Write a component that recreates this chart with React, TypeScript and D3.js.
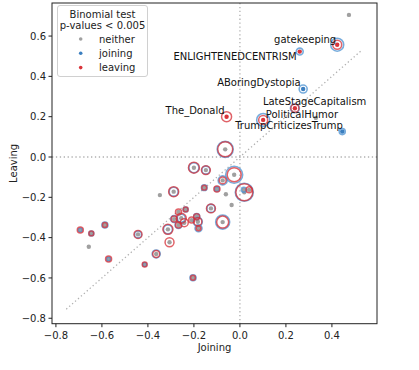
import React, { useEffect, useRef } from "react";
import * as d3 from "d3";

// joining / leaving effect per subreddit
const joining = [0.474, 0.423, 0.26, 0.275, 0.239, 0.33, 0.101, 0.445, -0.058, -0.064, -0.2, -0.148, -0.025, -0.075, -0.155, -0.1, -0.061, 0.019, 0.04, 0.017, -0.288, -0.348, -0.036, -0.126, -0.236, -0.267, -0.286, -0.255, -0.21, -0.188, -0.242, -0.267, -0.183, -0.18, -0.075, -0.313, -0.306, -0.364, -0.414, -0.443, -0.587, -0.646, -0.694, -0.657, -0.571, -0.204];
const leaving = [0.705, 0.557, 0.523, 0.337, 0.242, 0.194, 0.184, 0.126, 0.2, 0.038, -0.053, -0.065, -0.088, -0.116, -0.152, -0.159, -0.185, -0.175, -0.163, -0.162, -0.172, -0.189, -0.238, -0.255, -0.26, -0.273, -0.308, -0.304, -0.313, -0.296, -0.326, -0.337, -0.321, -0.354, -0.323, -0.359, -0.423, -0.481, -0.533, -0.384, -0.337, -0.379, -0.362, -0.445, -0.506, -0.599];
// significance: n = neither, j = joining, l = leaving
const signif = ["n", "l", "l", "j", "l", "n", "l", "j", "l", "n", "n", "n", "n", "n", "n", "n", "n", "n", "n", "n", "n", "n", "n", "n", "n", "n", "n", "n", "n", "n", "n", "n", "n", "n", "n", "n", "n", "n", "n", "n", "n", "n", "n", "n", "n", "n"];
// ring sizes (user counts, arbitrary units)
const joinCount = [0, 42, 12, 16, 20, 0, 42, 9, 0, 64, 25, 16, 72, 20, 8, 6, 0, 81, 0, 6, 20, 0, 0, 16, 6, 0, 12, 16, 0, 9, 0, 12, 20, 12, 49, 20, 0, 16, 4, 12, 9, 6, 4, 0, 4, 9];
const leaveCount = [0, 20, 0, 0, 16, 0, 20, 0, 25, 56, 30, 20, 49, 12, 6, 9, 0, 72, 9, 0, 25, 0, 0, 20, 6, 9, 9, 25, 9, 9, 16, 9, 16, 6, 36, 25, 20, 12, 6, 16, 6, 6, 9, 0, 9, 6];

const labelNames = ["gatekeeping", "ENLIGHTENEDCENTRISM", "ABoringDystopia", "LateStageCapitalism", "PoliticalHumor", "TrumpCriticizesTrump", "The_Donald"];
const labelIndex = [1, 2, 3, 4, 5, 6, 8];
// label offsets in px [dx, dy, anchor]
const labelOffsets: [number, number, string][] = [
  [-1, -2, "end"],
  [-3, 8, "end"],
  [-2.5, -3, "end"],
  [-32, -3, "start"],
  [-50, 0, "start"],
  [-28, 9, "start"],
  [-2, -3, "end"],
];

const xTicks = [-0.8, -0.6, -0.4, -0.2, 0.0, 0.2, 0.4];
const yTicks = [-0.8, -0.6, -0.4, -0.2, 0.0, 0.2, 0.4, 0.6];

const legendItems = [
  { key: "n", label: "neither" },
  { key: "j", label: "joining" },
  { key: "l", label: "leaving" },
];

const dotColor: Record<string, string> = { n: "#a0a0a0", j: "#3b7fc0", l: "#d9343a" };

export default function App() {
  const ref = useRef<SVGSVGElement>(null);

  useEffect(() => {
    const W = 419, H = 370;
    const left = 52, right = 377, top = 3, bottom = 323.7;
    const font = "DejaVu Sans, sans-serif";
    const svg = d3.select(ref.current);
    svg.selectAll("*").remove();

    const x = d3.scaleLinear().domain([-0.817, 0.596]).range([left, right]);
    const y = d3.scaleLinear().domain([-0.827, 0.764]).range([bottom, top]);
    const r = d3.scaleSqrt().domain([0, 100]).range([0, 10]);

    const data = joining.map((j, i) => ({
      x: j, y: leaving[i], s: signif[i], jc: joinCount[i], lc: leaveCount[i],
    }));

    const g = svg.append("g");

    // reference lines
    const ref0 = "#b0b0b0";
    g.append("line").attr("x1", x(0)).attr("x2", x(0)).attr("y1", top).attr("y2", bottom)
      .attr("stroke", ref0).attr("stroke-width", 1.3).attr("stroke-dasharray", "1.3,2.6");
    g.append("line").attr("x1", left).attr("x2", right).attr("y1", y(0)).attr("y2", y(0))
      .attr("stroke", ref0).attr("stroke-width", 1.3).attr("stroke-dasharray", "1.3,2.6");
    const lo = -0.755, hi = 0.526;
    g.append("line").attr("x1", x(lo)).attr("y1", y(lo)).attr("x2", x(hi)).attr("y2", y(hi))
      .attr("stroke", ref0).attr("stroke-width", 1.3).attr("stroke-dasharray", "1.3,2.6");

    // center dots
    g.selectAll(".dot").data(data).enter().append("circle")
      .attr("cx", (d) => x(d.x)).attr("cy", (d) => y(d.y)).attr("r", 2.2)
      .attr("fill", (d) => dotColor[d.s]);

    // joining rings
    g.selectAll(".jr").data(data.filter((d) => d.jc > 0)).enter().append("circle")
      .attr("cx", (d) => x(d.x)).attr("cy", (d) => y(d.y)).attr("r", (d) => r(d.jc))
      .attr("fill", "none").attr("stroke", "#4a90d0").attr("stroke-opacity", 0.75).attr("stroke-width", 1.6);

    // leaving rings
    g.selectAll(".lr").data(data.filter((d) => d.lc > 0)).enter().append("circle")
      .attr("cx", (d) => x(d.x)).attr("cy", (d) => y(d.y)).attr("r", (d) => r(d.lc))
      .attr("fill", "none").attr("stroke", "#d62d35").attr("stroke-opacity", 0.75).attr("stroke-width", 1.5);

    // labels
    labelNames.forEach((name, k) => {
      const d = data[labelIndex[k]];
      const [dx, dy, anchor] = labelOffsets[k];
      g.append("text").attr("x", x(d.x) + dx).attr("y", y(d.y) + dy)
        .attr("text-anchor", anchor).attr("font-family", font).attr("font-size", 10)
        .attr("fill", "#111").text(name);
    });

    // frame
    svg.append("rect").attr("x", left).attr("y", top).attr("width", right - left).attr("height", bottom - top)
      .attr("fill", "none").attr("stroke", "#222").attr("stroke-width", 1);

    // x axis
    const fmt = (v: number) => (v < 0 ? "\u2212" : "") + Math.abs(v).toFixed(1);
    xTicks.forEach((t) => {
      svg.append("line").attr("x1", x(t)).attr("x2", x(t)).attr("y1", bottom).attr("y2", bottom + 3.5)
        .attr("stroke", "#222");
      svg.append("text").attr("x", x(t)).attr("y", bottom + 15).attr("text-anchor", "middle")
        .attr("font-family", font).attr("font-size", 10).attr("fill", "#222").text(fmt(t));
    });
    yTicks.forEach((t) => {
      svg.append("line").attr("x1", left - 3.5).attr("x2", left).attr("y1", y(t)).attr("y2", y(t))
        .attr("stroke", "#222");
      svg.append("text").attr("x", left - 6).attr("y", y(t) + 3.6).attr("text-anchor", "end")
        .attr("font-family", font).attr("font-size", 10).attr("fill", "#222").text(fmt(t));
    });
    svg.append("text").attr("x", (left + right) / 2).attr("y", 351).attr("text-anchor", "middle")
      .attr("font-family", font).attr("font-size", 10).attr("fill", "#222").text("Joining");
    svg.append("text").attr("transform", `translate(16.5,${(top + bottom) / 2}) rotate(-90)`)
      .attr("text-anchor", "middle").attr("font-family", font).attr("font-size", 10)
      .attr("fill", "#222").text("Leaving");

    // legend
    const lg = svg.append("g");
    lg.append("rect").attr("x", 57.5).attr("y", 5.5).attr("width", 90).attr("height", 71).attr("rx", 2.5)
      .attr("fill", "white").attr("fill-opacity", 0.8).attr("stroke", "#d0d0d0");
    lg.append("text").attr("x", 102.5).attr("y", 17.5).attr("text-anchor", "middle")
      .attr("font-family", font).attr("font-size", 10).attr("fill", "#222").text("Binomial test");
    lg.append("text").attr("x", 102.5).attr("y", 29).attr("text-anchor", "middle")
      .attr("font-family", font).attr("font-size", 10).attr("fill", "#222").text("p-values < 0.005");
    legendItems.forEach((it, i) => {
      const yy = 39 + i * 14.3;
      lg.append("circle").attr("cx", 80.7).attr("cy", yy).attr("r", 1.8).attr("fill", dotColor[it.key]);
      lg.append("text").attr("x", 99).attr("y", yy + 3.6).attr("font-family", font).attr("font-size", 10)
        .attr("fill", "#222").text(it.label);
    });

    svg.attr("width", W).attr("height", H);
  }, []);

  return (
    <svg ref={ref} width={419} height={370}
      style={{ position: "absolute", left: 0, top: 0, background: "white" }} />
  );
}
